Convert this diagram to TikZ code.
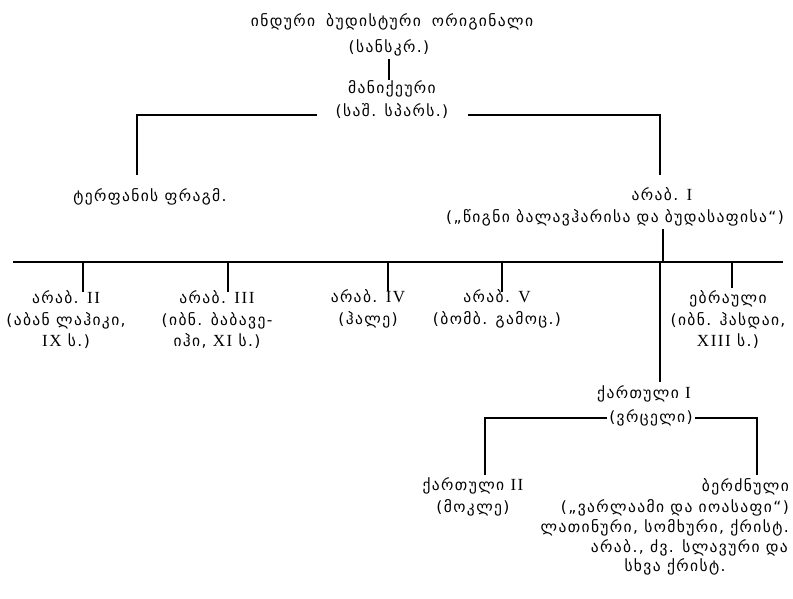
\documentclass[tikz,border=0pt]{standalone}
\usepackage{fontspec}
\setmainfont{DejaVu Sans}[LetterSpace=9]
\newfontfamily\romfont{Liberation Serif}[LetterSpace=9]
\newcommand{\rn}[1]{{\romfont\fontsize{17}{21}\selectfont #1}}
\begin{document}
\begin{tikzpicture}[x=1pt,y=-1pt,
  txt/.style={inner sep=0pt,font=\fontsize{15.5}{21.5}\selectfont,align=center},
  ln/.style={line width=1.6pt}]
\useasboundingbox (0,0) rectangle (793,598);
% top
\node[txt] (t1) at (392,22) {ინდური\hspace{11pt}ბუდისტური\hspace{11pt}ორიგინალი};
\node[txt] (t2) at (389,48) {(სანსკრ.)};
\node[txt] (m1) at (392,89) {მანიქეური};
\node[txt] (m2) at (392,111) {(საშ. სპარს.)};
\draw[ln] (t2.south) ++(0,3) coordinate (v1) -- (v1 |- m1.north) ;
\coordinate (jl) at (317,115);
\coordinate (jr) at (468,115);
\node[txt] (turf) at (150,197) {ტერფანის ფრაგმ.};
\node[txt] (a1) at (662,194) {არაბ. \rn{I}};
\node[txt] (a1b) at (615,218) {(„წიგნი ბალავჰარისა და ბუდასაფისა“)};
\draw[ln] (jl) -- (137,115) coordinate (cl) -- (137,175);
\draw[ln] (jr) -- (660,115) coordinate (cr) -- ++(0,60);
% big line
\coordinate (bl) at (13,262);
\coordinate (br) at (783,262);
\draw[ln] (bl) -- (br);
\draw[ln] (663,229) coordinate (a1v) -- (a1v |- bl);
% bottom row
\node[txt] (a2) at (66,320) {არაბ. \rn{II}\\(აბან ლაჰიკი,\\\rn{IX} ს.)};
\node[txt] (a3) at (217,320) {არაბ. \rn{III}\\(იბნ. ბაბავე-\\იჰი, \rn{XI} ს.)};
\node[txt] (a4) at (368,309) {არაბ. \rn{IV}\\(ჰალე)};
\node[txt] (a5) at (497,309) {არაბ. \rn{V}\\(ბომბ. გამოც.)};
\node[txt] (heb) at (728,320) {ებრაული\\(იბნ. ჰასდაი,\\\rn{XIII} ს.)};
\draw[ln] (83,262) -- (83,292);
\draw[ln] (228,262) -- (228,292);
\draw[ln] (388,262) -- (388,291);
\draw[ln] (502,262) -- (502,292);
\draw[ln] (732,262) -- (732,288);
% georgian
\node[txt] (k1) at (644,394) {ქართული \rn{I}};
\node[txt,fill=white,inner xsep=2pt] (k1b) at (651,418) {(ვრცელი)};
\draw[ln] (660,262) -- (660,382);
\coordinate (kl) at (485,418);
\coordinate (kr) at (757,418);
\node[txt] (k2) at (473,497) {ქართული \rn{II}\\(მოკლე)};
\node[txt,anchor=east] (gr) at (789,487) {ბერძნული};
\node[txt,anchor=east] (gr2) at (789,508) {(„ვარლაამი და იოასაფი“)};
\node[txt,anchor=east] (gr3) at (789,528) {ლათინური, სომხური, ქრისტ.};
\node[txt,anchor=east] (gr4) at (788,548) {არაბ., ძვ. სლავური და};
\node[txt] (gr5) at (675,567) {სხვა ქრისტ.};
\draw[ln] (k1b.west) -- (kl) -- (kl |- 0,475);
\draw[ln] (k1b.east) -- (kr) -- (kr |- 0,475);
\end{tikzpicture}
\end{document}
